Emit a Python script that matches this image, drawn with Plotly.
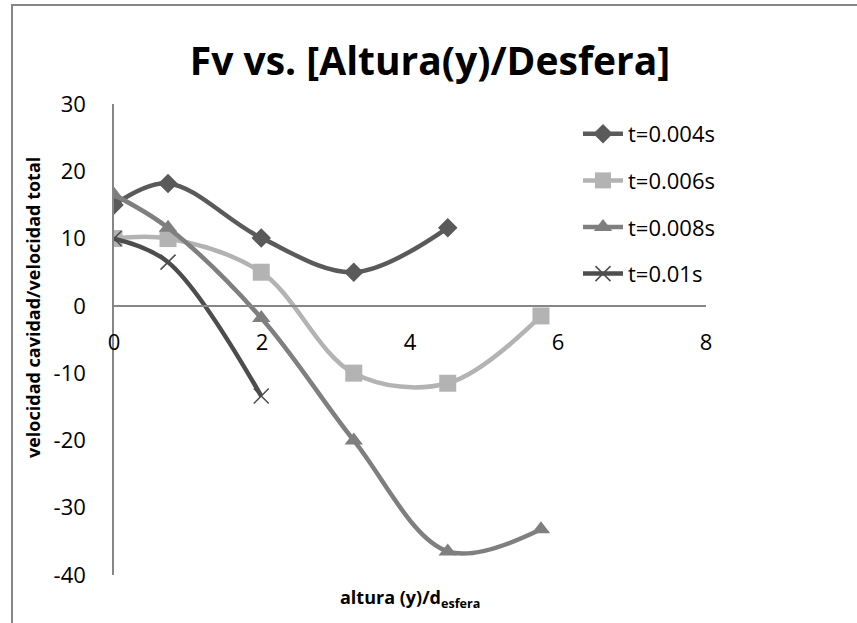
import plotly.graph_objects as go

# ---- data ----
x_vals = [0, 0.73, 1.99, 3.24, 4.51, 5.77]

series_names = ["t=0.004s", "t=0.006s", "t=0.008s", "t=0.01s"]
y_t004 = [15.0, 18.2, 10.1, 5.0, 11.6]
y_t006 = [10.0, 10.0, 5.0, -10.0, -11.5, -1.5]
y_t008 = [16.5, 11.6, -1.8, -20.0, -36.5, -33.2]
y_t010 = [10.0, 6.5, -13.4]

x_ticks = [0, 2, 4, 6, 8]
y_ticks = [-40, -30, -20, -10, 0, 10, 20, 30]

title_text = "Fv vs. [Altura(y)/Desfera]"
x_title = "altura (y)/d<sub>esfera</sub>"
y_title = "velocidad cavidad/velocidad total"

# ---- styles ----
colors = ["#5a5a5a", "#b3b3b3", "#7f7f7f", "#4d4d4d"]
symbols = ["diamond", "square", "triangle-up", "x-thin"]
msizes = [15, 17, 16, 15]
ys = [y_t004, y_t006, y_t008, y_t010]

FONT = "Open Sans"

fig = go.Figure()
for i, (name, yv) in enumerate(zip(series_names, ys)):
    marker = dict(symbol=symbols[i], size=msizes[i], color=colors[i])
    if symbols[i] == "x-thin":
        marker["line"] = dict(color=colors[i], width=1.5)
    fig.add_trace(go.Scatter(
        x=x_vals[:len(yv)], y=yv, name=name, mode="lines+markers",
        line=dict(color=colors[i], width=4.5, shape="spline", smoothing=1.0),
        marker=marker, legendgroup=name,
    ))

L, R, T, B = 114, 151, 104, 48
W, H = 857, 623
pw = W - L - R
ph = H - T - B


def px_x(p):
    return (p - L) / pw


def px_y(p):
    return (H - B - p) / ph


fig.update_layout(
    template="none",
    width=W, height=H,
    margin=dict(l=L, r=R, t=T, b=B, autoexpand=False),
    paper_bgcolor="white", plot_bgcolor="white",
    font=dict(family=FONT, size=22, color="#000000"),
    title=dict(text="<b>" + title_text + "</b>", x=430 / W, xanchor="center",
               y=1 - 61 / H, yanchor="middle", yref="container",
               font=dict(family=FONT, size=39, color="#000000")),
    xaxis=dict(range=[0, 8], tickvals=x_ticks, ticktext=[str(v) for v in x_ticks],
               showgrid=False, zeroline=False, automargin=False,
               showline=True, linecolor="#868686", linewidth=1.5,
               anchor="free", position=40 / 70, ticks="", ticklabelstandoff=17,
               tickfont=dict(size=22)),
    yaxis=dict(range=[-40, 30], tickvals=y_ticks, ticktext=[str(v) for v in y_ticks],
               showgrid=False, zeroline=False, automargin=False,
               showline=True, linecolor="#868686", linewidth=1.5,
               ticks="", ticklabelstandoff=22, tickfont=dict(size=22)),
    legend=dict(x=px_x(578), y=px_y(113), xanchor="left", yanchor="top",
                font=dict(family=FONT, size=22), tracegroupgap=15,
                bgcolor="rgba(0,0,0,0)", itemwidth=40),
    showlegend=True,
)

fig.add_annotation(text="<b>" + x_title + "</b>", xref="paper", yref="paper",
                   x=px_x(410), y=px_y(598), showarrow=False,
                   font=dict(family=FONT, size=18), xanchor="center", yanchor="middle")
fig.add_annotation(text="<b>" + y_title + "</b>", xref="paper", yref="paper",
                   x=px_x(33), y=px_y(308), showarrow=False, textangle=-90,
                   font=dict(family=FONT, size=18), xanchor="center", yanchor="middle")

fig.add_shape(type="rect", xref="paper", yref="paper",
              x0=px_x(12), x1=px_x(W + 20), y0=px_y(H + 20), y1=px_y(5),
              line=dict(color="#868686", width=2), fillcolor="rgba(0,0,0,0)",
              layer="below")

fig.write_html("out.html", config={"displayModeBar": False},
               post_script="document.body.style.margin='0';")
